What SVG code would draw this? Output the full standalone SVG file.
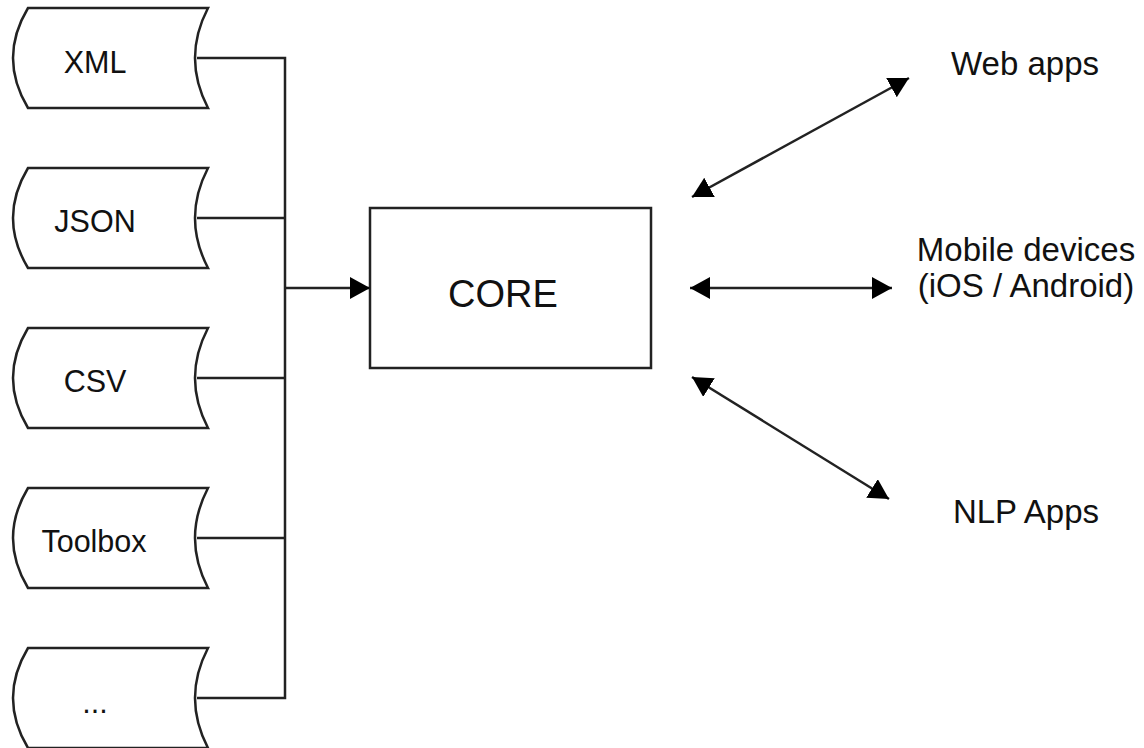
<svg xmlns="http://www.w3.org/2000/svg" width="1144" height="748" viewBox="0 0 1144 748">
<style>
.shape{fill:#fff;stroke:#222;stroke-width:2.5}
.ln{fill:none;stroke:#222;stroke-width:2.5}
.t{font-family:"Liberation Sans",Arial,sans-serif;fill:#111;text-anchor:middle}
.n{font-size:30.5px}
.l{font-size:33px}
</style>
<defs>
<path id="db" d="M28,0 L208,0 Q182,50 208,100 L28,100 Q-2,50 28,0 Z"/>
<marker id="ah" viewBox="0 0 20 22" refX="20" refY="11" markerWidth="20" markerHeight="22" markerUnits="userSpaceOnUse" orient="auto-start-reverse">
<path d="M0,0 L20,11 L0,22 Z" fill="#000"/>
</marker>
</defs>
<rect width="1144" height="748" fill="#fff"/>
<g id="xml"><use href="#db" class="shape" y="8"/><text class="t n" x="95" y="73">XML</text></g>
<g id="json"><use href="#db" class="shape" y="168"/><text class="t n" x="95" y="232">JSON</text></g>
<g id="csv"><use href="#db" class="shape" y="328"/><text class="t n" x="95" y="392">CSV</text></g>
<g id="toolbox"><use href="#db" class="shape" y="488"/><text class="t n" x="94" y="552">Toolbox</text></g>
<g id="more"><use href="#db" class="shape" y="648"/><text class="t n" x="95" y="713">...</text></g>
<g id="core"><rect class="shape" x="370" y="208" width="281" height="160"/><text class="t" x="503" y="307" font-size="38">CORE</text></g>
<g id="web"><text class="t l" x="1025" y="75">Web apps</text></g>
<g id="mobile"><text class="t l" x="1026" y="261">Mobile devices</text><text class="t l" x="1026" y="297">(iOS / Android)</text></g>
<g id="nlp"><text class="t l" x="1026" y="523">NLP Apps</text></g>
<g id="connectors">
<polyline class="ln" points="197,58 285,58 285,698 197,698"/>
<line class="ln" x1="197" y1="218" x2="285" y2="218"/>
<line class="ln" x1="197" y1="378" x2="285" y2="378"/>
<line class="ln" x1="197" y1="538" x2="285" y2="538"/>
<line class="ln" x1="285" y1="288" x2="370" y2="288" marker-end="url(#ah)"/>
<line class="ln" x1="692" y1="197" x2="909" y2="78" marker-start="url(#ah)" marker-end="url(#ah)"/>
<line class="ln" x1="690" y1="288" x2="892" y2="288" marker-start="url(#ah)" marker-end="url(#ah)"/>
<line class="ln" x1="692" y1="377" x2="889" y2="499" marker-start="url(#ah)" marker-end="url(#ah)"/>
</g>
</svg>
